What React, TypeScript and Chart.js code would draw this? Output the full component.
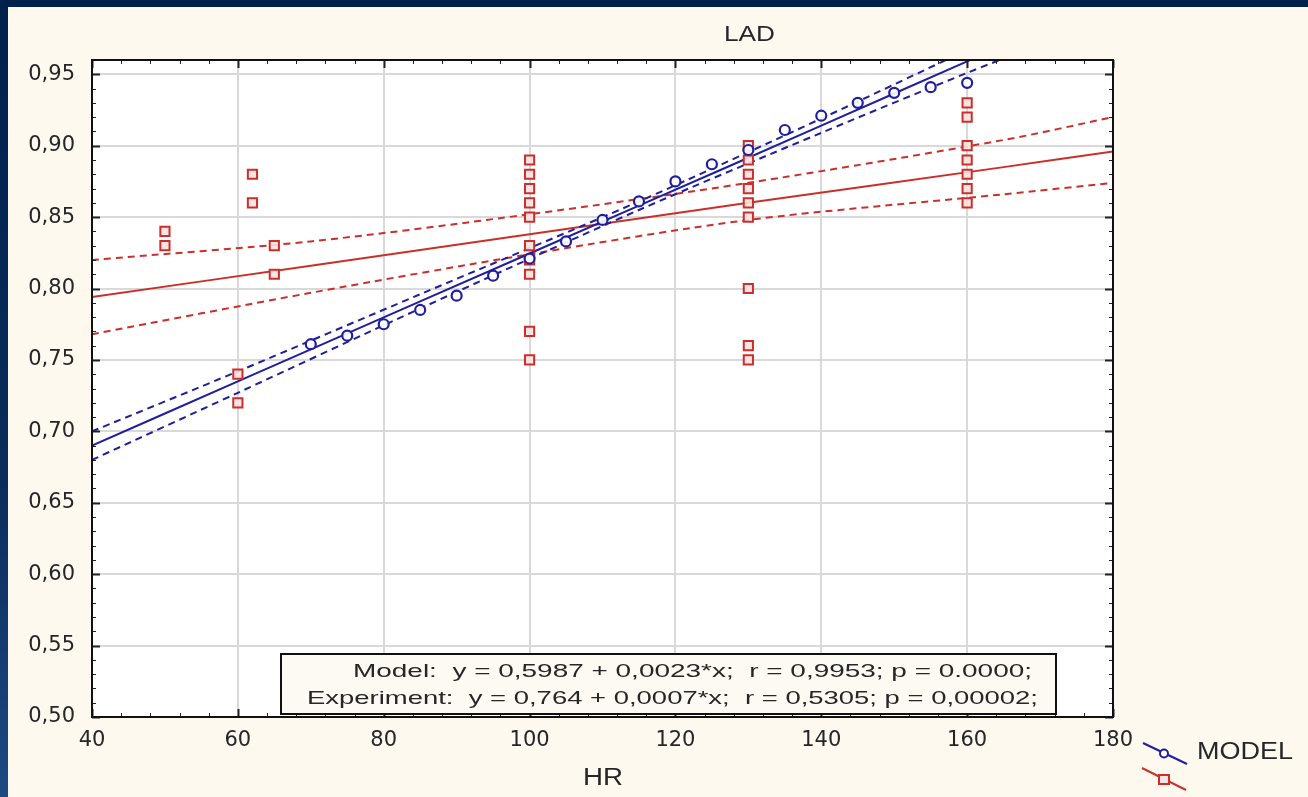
import React, { useEffect, useRef } from "react";
import { Chart, registerables } from "chart.js";

Chart.register(...registerables);

// ---- Data ----
const modelX = [70, 75, 80, 85, 90, 95, 100, 105, 110, 115, 120, 125, 130, 135, 140, 145, 150, 155, 160];
const modelY = [0.761, 0.767, 0.775, 0.785, 0.795, 0.809, 0.821, 0.833, 0.848, 0.861, 0.875, 0.887, 0.897, 0.911, 0.921, 0.930, 0.937, 0.941, 0.944];

const expX = [
  50, 50, 60, 60, 62, 62, 65, 65,
  100, 100, 100, 100, 100, 100, 100, 100, 100, 100,
  130, 130, 130, 130, 130, 130, 130, 130, 130,
  160, 160, 160, 160, 160, 160, 160,
];
const expY = [
  0.84, 0.83, 0.74, 0.72, 0.88, 0.86, 0.83, 0.81,
  0.89, 0.88, 0.87, 0.86, 0.85, 0.83, 0.82, 0.81, 0.77, 0.75,
  0.90, 0.89, 0.88, 0.87, 0.86, 0.85, 0.80, 0.76, 0.75,
  0.93, 0.92, 0.90, 0.89, 0.88, 0.87, 0.86,
];

const modelFitX = [40, 60, 85, 115, 140, 160, 170];
const modelFit = [0.690, 0.735, 0.791, 0.858, 0.914, 0.959, 0.981];
const modelUpper = [0.700, 0.742, 0.796, 0.861, 0.919, 0.967, 0.991];
const modelLower = [0.680, 0.727, 0.786, 0.855, 0.909, 0.951, 0.971];

const expFitX = [40, 70, 100, 130, 165, 180];
const expFit = [0.794, 0.816, 0.838, 0.860, 0.885, 0.896];
const expUpper = [0.820, 0.833, 0.852, 0.874, 0.904, 0.920];
const expLower = [0.768, 0.797, 0.824, 0.848, 0.866, 0.874];

const chartTitle = "LAD";
const xTitle = "HR";
const legendLabels = ["MODEL"];
const statLines = [
  "Model:  y = 0,5987 + 0,0023*x;  r = 0,9953; p = 0.0000;",
  "Experiment:  y = 0,764 + 0,0007*x;  r = 0,5305; p = 0,00002;",
];

const X_MIN = 40, X_MAX = 180, X_STEP = 20, X_MINOR = 4;
const Y_MIN = 0.5, Y_MAX = 0.96, Y_STEP = 0.05, Y_MINOR = 0.01;

const BLUE = "#1f1f9e";
const RED = "#c9302c";
const TEXT = "#262626";

const W = 1308, H = 797;

const pts = (xs: number[], ys: number[]) => xs.map((x, i) => ({ x, y: ys[i] }));

function stretchText(ctx: CanvasRenderingContext2D, text: string, left: number, cy: number, width: number, font: string) {
  ctx.save();
  ctx.font = font;
  const w = ctx.measureText(text).width;
  ctx.translate(left, cy);
  ctx.scale(width / w, 1);
  ctx.textBaseline = "middle";
  ctx.textAlign = "left";
  ctx.fillStyle = TEXT;
  ctx.fillText(text, 0, 0);
  ctx.restore();
}

const backgroundPlugin = {
  id: "bg",
  beforeDraw(chart: any) {
    const ctx = chart.ctx as CanvasRenderingContext2D;
    ctx.save();
    ctx.fillStyle = "#00214b";
    ctx.fillRect(0, 0, W, H);
    const g = ctx.createLinearGradient(0, 0, 0, H);
    g.addColorStop(0, "#00214b");
    g.addColorStop(0.6, "#0a2c5c");
    g.addColorStop(1, "#1d4a82");
    ctx.fillStyle = g;
    ctx.fillRect(0, 0, 8, H);
    ctx.fillStyle = "#fdf9ef";
    ctx.fillRect(8, 7, W - 8, H - 7);
    const a = chart.chartArea;
    ctx.fillStyle = "#ffffff";
    ctx.fillRect(a.left, a.top, a.right - a.left, a.bottom - a.top);
    ctx.restore();
  },
};

const decorPlugin = {
  id: "decor",
  afterDraw(chart: any) {
    const ctx = chart.ctx as CanvasRenderingContext2D;
    const a = chart.chartArea;
    const xs = chart.scales.x;
    const ys = chart.scales.y;
    ctx.save();
    // ticks
    ctx.strokeStyle = "#222";
    for (let v = X_MIN; v <= X_MAX + 1e-9; v += X_MINOR) {
      const px = Math.round(xs.getPixelForValue(v)) + 0.5;
      const major = Math.abs(v % X_STEP) < 1e-9;
      const len = major ? 8 : 4;
      ctx.lineWidth = major ? 2 : 1;
      ctx.beginPath();
      ctx.moveTo(px, a.bottom); ctx.lineTo(px, a.bottom - len);
      ctx.moveTo(px, a.top); ctx.lineTo(px, a.top + len);
      ctx.stroke();
    }
    for (let i = 0; Y_MIN + i * Y_MINOR <= Y_MAX + 1e-9; i++) {
      const v = Y_MIN + i * Y_MINOR;
      const py = Math.round(ys.getPixelForValue(v)) + 0.5;
      const major = i % 5 === 0;
      const len = major ? 8 : 4;
      ctx.lineWidth = major ? 2 : 1;
      ctx.beginPath();
      ctx.moveTo(a.left, py); ctx.lineTo(a.left + len, py);
      ctx.moveTo(a.right, py); ctx.lineTo(a.right - len, py);
      ctx.stroke();
    }
    // plot border
    ctx.lineWidth = 2;
    ctx.strokeStyle = "#111";
    ctx.strokeRect(a.left, a.top, a.right - a.left, a.bottom - a.top);

    // stats box
    ctx.fillStyle = "#fdfaf3";
    ctx.fillRect(281, 654, 775, 60);
    ctx.lineWidth = 2;
    ctx.strokeStyle = "#111";
    ctx.strokeRect(281, 654, 775, 60);
    stretchText(ctx, statLines[0], 353, 672, 679, '19px "Liberation Sans", Arial, sans-serif');
    stretchText(ctx, statLines[1], 307, 699, 731, '19px "Liberation Sans", Arial, sans-serif');

    // titles
    stretchText(ctx, chartTitle, 724, 35, 51, '22px "Liberation Sans", Arial, sans-serif');
    stretchText(ctx, xTitle, 583, 779, 40, '23px "Liberation Sans", Arial, sans-serif');

    // legend
    ctx.lineWidth = 2;
    ctx.strokeStyle = BLUE;
    ctx.beginPath(); ctx.moveTo(1143, 743); ctx.lineTo(1187, 764); ctx.stroke();
    ctx.fillStyle = "#ffffff";
    ctx.beginPath(); ctx.arc(1164, 753.5, 4, 0, Math.PI * 2); ctx.fill(); ctx.stroke();
    ctx.strokeStyle = RED;
    ctx.beginPath(); ctx.moveTo(1142, 768); ctx.lineTo(1186, 790); ctx.stroke();
    ctx.fillStyle = "#fbe3e3";
    ctx.fillRect(1159, 775, 10, 9); ctx.strokeRect(1159, 775, 10, 9);
    stretchText(ctx, legendLabels[0], 1197, 753, 96, '23px "Liberation Sans", Arial, sans-serif');
    ctx.restore();
  },
};

export default function App() {
  const ref = useRef<HTMLCanvasElement>(null);
  useEffect(() => {
    document.body.style.margin = "0";
    const canvas = ref.current!;
    const lineDs = (label: string, xs: number[], ys: number[], color: string, dashed: boolean) => ({
      type: "line" as const,
      label,
      data: pts(xs, ys),
      borderColor: color,
      borderWidth: 2,
      borderDash: dashed ? [7, 5] : [],
      pointRadius: 0,
      fill: false,
      tension: 0.3,
      showLine: true,
    });
    const chart = new Chart(canvas, {
      type: "scatter",
      data: {
        datasets: [
          {
            label: "MODEL",
            data: pts(modelX, modelY),
            pointStyle: "circle",
            pointRadius: 5,
            borderColor: BLUE,
            backgroundColor: "rgba(255,255,255,0.9)",
            borderWidth: 2.2,
          } as any,
          {
            label: "EXPERIMENT",
            data: pts(expX, expY),
            pointStyle: "rect",
            pointRadius: 6.5,
            borderColor: RED,
            backgroundColor: "rgba(250,225,225,0.9)",
            borderWidth: 2,
          },
          lineDs("Model fit", modelFitX, modelFit, BLUE, false),
          lineDs("Model upper", modelFitX, modelUpper, BLUE, true),
          lineDs("Model lower", modelFitX, modelLower, BLUE, true),
          lineDs("Exp fit", expFitX, expFit, RED, false),
          lineDs("Exp upper", expFitX, expUpper, RED, true),
          lineDs("Exp lower", expFitX, expLower, RED, true),
        ],
      },
      options: {
        animation: false,
        responsive: false,
        devicePixelRatio: 1,
        layout: { padding: { left: 0, top: 60, right: W - 1113, bottom: 0 } },
        plugins: { legend: { display: false }, tooltip: { enabled: false }, title: { display: false } },
        scales: {
          x: {
            type: "linear",
            min: X_MIN,
            max: X_MAX,
            afterFit: (s: any) => { s.height = 80; },
            grid: { color: "#d9d9d9", lineWidth: 2, drawTicks: false },
            border: { display: false },
            ticks: {
              stepSize: X_STEP,
              padding: 11,
              color: TEXT,
              font: { family: '"DejaVu Sans", sans-serif', size: 21 },
              callback: (v: any) => String(v),
              maxRotation: 0,
            },
          },
          y: {
            type: "linear",
            min: Y_MIN,
            max: Y_MAX,
            afterFit: (s: any) => { s.width = 92; },
            grid: { color: "#d9d9d9", lineWidth: 2, drawTicks: false },
            border: { display: false },
            ticks: {
              stepSize: Y_STEP,
              includeBounds: false,
              padding: 17,
              color: TEXT,
              font: { family: '"DejaVu Sans", sans-serif', size: 21 },
              callback: (v: any) => Number(v).toFixed(2).replace(".", ","),
            },
          },
        },
      },
      plugins: [backgroundPlugin, decorPlugin],
    } as any);
    return () => chart.destroy();
  }, []);
  return (
    <div style={{ width: W, height: H, position: "relative" }}>
      <canvas ref={ref} width={W} height={H} style={{ width: W, height: H, display: "block" }} />
    </div>
  );
}
